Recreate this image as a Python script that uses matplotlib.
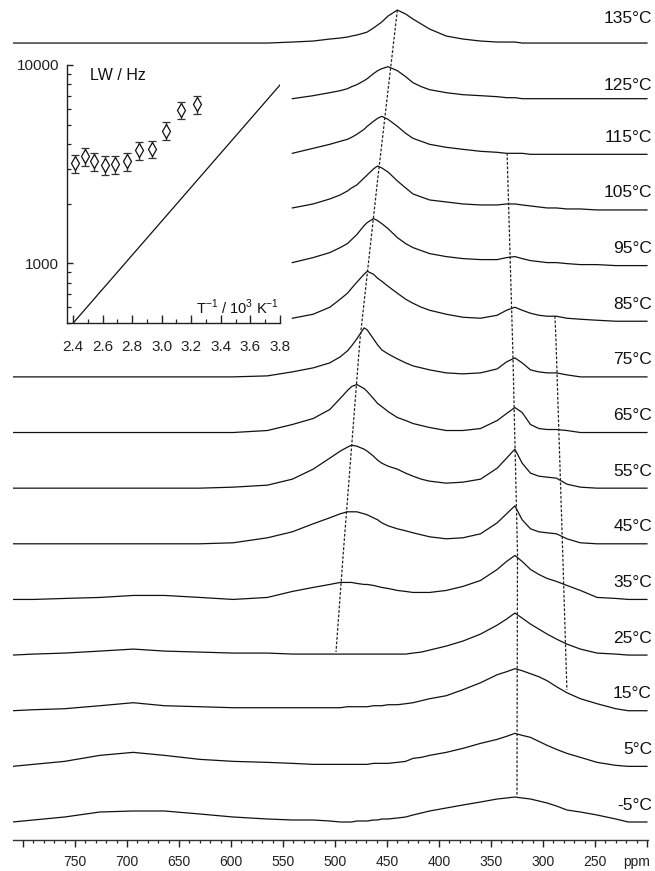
import numpy as np
import matplotlib
matplotlib.use("Agg")
import matplotlib.pyplot as plt
from matplotlib.ticker import FixedLocator, MultipleLocator, FuncFormatter, LogLocator, NullFormatter

plt.rcParams['font.family'] = ['Liberation Sans', 'DejaVu Sans']
plt.rcParams['mathtext.fontset'] = 'custom'
plt.rcParams['mathtext.rm'] = 'Liberation Sans'

nan = np.nan

# chemical shift grid (ppm) shared by all traces
ppm = [810, 790, 760, 726, 694, 664, 630, 598, 565,
       541, 521, 505, 495, 488, 484, 479, 472, 469, 463,
       459, 455, 449, 440, 432, 425, 417, 409, 393, 377,
       360, 344, 335, 327, 320, 312, 304, 296, 287, 277,
       264, 248, 230, 218, 200]

temps = [135, 125, 115, 105, 95, 85, 75, 65, 55, 45, 35, 25, 15, 5, -5]

# intensities
s135 = [0, 0, 0, 0, 0, 0, 0, 0, 0,
        1, 2, 4, 5, 6, 7, 8, 10, 11, 15,
        18, 21, 27, 33, 29, 24, 19, 14, 7, 4,
        2, 1, 1, 1, 0, 0, 0, 0, 0, 0,
        0, 0, 0, 0, 0]
s125 = [nan] * 9 + [
        0, 3, 6, 8, 10, 12, 14, 18, 20, 25,
        28, 30, 32, 28, 22, 16, 12, 9, 6, 4,
        3, 2, 1, 1, 0, 0, 0, 0, 0, 0,
        0, 0, 0, 0, 0]
s115 = [nan] * 9 + [
        1, 6, 10, 13, 15, 17, 20, 25, 28, 33,
        36, 38, 35, 28, 21, 16, 13, 10, 7, 5,
        3, 2, 1, 1, 1, 0, 0, 0, 0, 0,
        0, 0, 0, 0, 0]
s105 = [nan] * 9 + [
        2, 6, 11, 15, 19, 22, 25, 32, 35, 41,
        44, 42, 38, 29, 22, 16, 13, 10, 8, 6,
        5, 5, 6, 6, 5, 4, 3, 2, 2, 1,
        1, 0, 0, 0, 0]
s95 = [nan] * 9 + [
       3, 8, 13, 18, 22, 26, 31, 40, 43, 47,
       45, 42, 37, 28, 22, 18, 15, 12, 9, 7,
       6, 6, 8, 9, 7, 5, 4, 3, 3, 2,
       1, 1, 0, 0, 0]
s85 = [nan] * 9 + [
       3, 7, 14, 22, 28, 33, 39, 47, 50, 47,
       43, 40, 35, 28, 22, 18, 14, 11, 7, 4,
       3, 6, 11, 14, 11, 8, 6, 5, 5, 3,
       2, 1, 0, 0, 0]
s75 = [0, 0, 0, 0, 0, 0, 0, 0, 1,
       5, 9, 14, 20, 26, 31, 38, 49, 47, 38,
       32, 27, 23, 18, 14, 11, 9, 7, 4, 3,
       4, 8, 15, 19, 14, 7, 5, 4, 4, 2,
       0, 0, 0, 0, 0]
s65 = [0, 0, 0, 0, 0, 0, 0, 0, 2,
       8, 14, 23, 34, 42, 46, 48, 44, 41, 34,
       29, 26, 21, 15, 12, 9, 7, 5, 2, 2,
       4, 12, 19, 25, 20, 8, 4, 3, 3, 2,
       0, 0, 0, 0, 0]
s55 = [0, 0, 0, 0, 0, 0, 0, 1, 3,
       9, 19, 30, 37, 41, 43, 42, 39, 37, 32,
       28, 25, 22, 19, 15, 12, 9, 7, 5, 6,
       9, 20, 30, 39, 25, 15, 12, 11, 10, 4,
       1, 0, 0, 0, 0]
s45 = [0, 0, 0, 0, 0, 0, 0, 1, 6,
       12, 20, 26, 30, 32, 32, 32, 30, 29, 26,
       24, 21, 18, 15, 13, 11, 9, 7, 5, 6,
       10, 21, 30, 38, 24, 15, 12, 11, 10, 5,
       1, 0, 0, 0, 0]
s35 = [0, 0, 1, 2, 4, 4, 2, 0, 2,
       8, 12, 15, 17, 17, 17, 16, 15, 15, 14,
       13, 12, 11, 9, 8, 7, 7, 7, 9, 13,
       19, 30, 38, 44, 38, 30, 25, 21, 18, 14,
       9, 2, 1, 0, 0]
s25 = [0, 1, 2, 4, 6, 4, 3, 2, 2,
       1, 1, 1, 1, 1, 1, 1, 1, 1, 1,
       1, 1, 1, 1, 1, 2, 3, 5, 9, 14,
       21, 30, 36, 42, 37, 31, 26, 21, 16, 11,
       6, 2, 1, 0, 0]
s15 = [0, 1, 2, 5, 8, 5, 4, 3, 3,
       3, 3, 3, 3, 4, 4, 4, 4, 4, 5,
       5, 5, 6, 6, 7, 8, 10, 12, 15, 21,
       28, 36, 39, 42, 40, 37, 34, 30, 24, 18,
       12, 7, 2, 0, 0]
s5 = [0, 2, 5, 11, 14, 11, 7, 5, 4,
      3, 2, 2, 2, 2, 2, 2, 2, 2, 3,
      3, 3, 3, 4, 5, 8, 9, 11, 14, 18,
      23, 27, 30, 33, 31, 29, 25, 21, 17, 13,
      9, 4, 1, 0, 0]
sm5 = [0, 2, 5, 10, 11, 11, 8, 5, 3,
       2, 2, 1, 0, 0, 0, 1, 1, 1, 2,
       2, 3, 3, 4, 5, 7, 9, 11, 14, 17,
       20, 23, 24, 25, 24, 23, 21, 19, 16, 12,
       10, 7, 3, 0, 0]

spectra = [s135, s125, s115, s105, s95, s85, s75, s65, s55, s45,
           s35, s25, s15, s5, sm5]

# dashed guide lines (ppm, stacked height)
guide_a_ppm = [440, 459, 476, 492, 499]
guide_a_y = [830, 660, 500, 287, 188]
guide_b_ppm = [334.5, 329, 324.5, 325]
guide_b_y = [687, 490, 287, 45]
guide_c_ppm = [288.5, 287.5, 281, 277]
guide_c_y = [524, 500, 287, 150]

# inset: line width vs inverse temperature
inv_t = [2.414, 2.481, 2.544, 2.616, 2.687, 2.763, 2.848, 2.936, 3.027, 3.129, 3.236]
lw_hz = [3190, 3470, 3270, 3130, 3160, 3270, 3720, 3770, 4660, 5930, 6340]
lw_err = [330, 360, 340, 330, 330, 340, 390, 390, 480, 610, 650]
fit_x = [2.40, 3.80]
fit_y = [498, 7930]

fig = plt.figure(figsize=(6.55, 8.71), dpi=100)
ax = fig.add_axes([13 / 655, 31 / 871, 635 / 655, 840 / 871])

spacing = 55.64
n = len(temps)
for i, (t, s) in enumerate(zip(temps, spectra)):
    base = 18 + spacing * (n - 1 - i)
    ax.plot(ppm, np.array(s, dtype=float) + base, color='#111111', lw=0.9)
    raise_by = {135: 25, 125: 13}.get(t, 17)
    ax.text(195.2, base + raise_by, f"{t}\u00b0C", ha='right', va='center',
            fontsize=12.5, color='#111111', clip_on=False)

for gx, gy in [(guide_a_ppm, guide_a_y), (guide_b_ppm, guide_b_y), (guide_c_ppm, guide_c_y)]:
    ax.plot(gx, gy, color='#222222', lw=0.9, ls=(0, (2.2, 1.4)))

ax.set_xlim(809.6, 199.0)
ax.set_ylim(0, 840)
for side in ['left', 'right', 'top']:
    ax.spines[side].set_visible(False)
ax.spines['bottom'].set_color('#333333')
ax.spines['bottom'].set_linewidth(1.0)
ax.set_yticks([])
ax.xaxis.set_major_locator(FixedLocator(list(range(200, 801, 50))))
ax.xaxis.set_minor_locator(MultipleLocator(10))
ax.xaxis.set_major_formatter(FuncFormatter(lambda v, p: '' if v in (200, 800) else f"{int(v)}"))
ax.tick_params(axis='x', which='major', direction='out', length=5, width=1.0,
               pad=6, labelsize=10, colors='#222222')
ax.tick_params(axis='x', which='minor', direction='out', length=2.5, width=0.9, colors='#222222')
ax.annotate('ppm', xy=(210, 0), xycoords=('data', 'axes fraction'),
            xytext=(0, -(5 + 6)), textcoords='offset points',
            ha='center', va='top', fontsize=10, color='#222222')

# inset
ins = fig.add_axes([67 / 655, 548 / 871, 213 / 655, 258 / 871])
ins.patch.set_alpha(0)
ins.set_yscale('log')
ins.plot(fit_x, fit_y, color='#111111', lw=0.9)
ins.errorbar(inv_t, lw_hz, yerr=lw_err, fmt='d', ms=7, mfc='white', mec='#111111',
             mew=0.9, ecolor='#333333', elinewidth=1.0, capsize=3, capthick=1.0)
ins.set_xlim(2.36, 3.8)
ins.set_ylim(500, 10000)
for side in ['right', 'top']:
    ins.spines[side].set_visible(False)
for side in ['left', 'bottom']:
    ins.spines[side].set_color('#222222')
    ins.spines[side].set_linewidth(1.0)
ins.set_xticks([2.4, 2.6, 2.8, 3.0, 3.2, 3.4, 3.6, 3.8])
ins.xaxis.set_minor_locator(MultipleLocator(0.1))
ins.set_xticklabels(['2.4', '2.6', '2.8', '3.0', '3.2', '3.4', '3.6', '3.8'])
ins.yaxis.set_major_locator(FixedLocator([1000, 10000]))
ins.set_yticklabels(['1000', '10000'])
ins.yaxis.set_minor_locator(LogLocator(base=10, subs=np.arange(2, 10)))
ins.yaxis.set_minor_formatter(NullFormatter())
ins.tick_params(axis='x', which='major', direction='in', length=6, width=1.0, pad=12,
                labelsize=11, colors='#222222')
ins.tick_params(axis='x', which='minor', direction='in', length=3, width=0.9, colors='#222222')
ins.tick_params(axis='y', which='major', direction='in', length=4, width=1.0, pad=5.5,
                labelsize=11, colors='#222222')
ins.tick_params(axis='y', which='minor', direction='in', length=3, width=0.9, colors='#222222')
ins.text(0.11, 0.96, 'LW / Hz', transform=ins.transAxes, ha='left', va='center',
         fontsize=11.5, color='#111111')
ins.text(0.995, 0.06, r'T$^{-1}$ / 10$^{3}$ K$^{-1}$', transform=ins.transAxes,
         ha='right', va='center', fontsize=10.5, color='#111111')

fig.savefig('out.png', dpi=100)
